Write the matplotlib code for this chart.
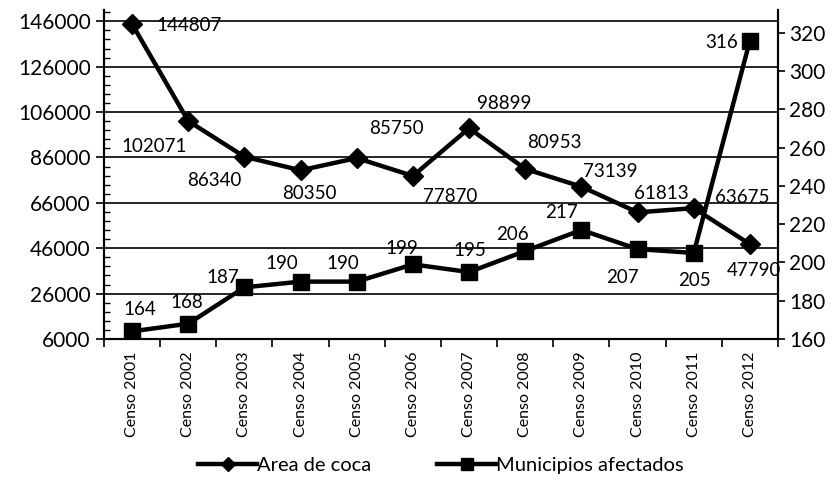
import matplotlib.pyplot as plt
import numpy as np

plt.rcParams['font.family'] = ['Lato', 'DejaVu Sans']

years = ['Censo 2001', 'Censo 2002', 'Censo 2003', 'Censo 2004', 'Censo 2005', 'Censo 2006',
         'Censo 2007', 'Censo 2008', 'Censo 2009', 'Censo 2010', 'Censo 2011', 'Censo 2012']
area_coca = [144807, 102071, 86340, 80350, 85750, 77870, 98899, 80953, 73139, 61813, 63675, 47790]
municipios = [164, 168, 187, 190, 190, 199, 195, 206, 217, 207, 205, 316]

# label offsets in pixels (dx, dy), picked by eye
area_off = [(57, -1), (-34, -25), (-30, -24), (9, -23), (40, 30), (37, -21),
            (35, 25), (29, 26), (29, 15), (24, 19), (49, 11), (4, -26)]
mun_off = [(8, 22), (-1, 21), (-22, 10), (-19, 18), (-14, 18), (-11, 16),
           (1, 22), (-13, 17), (-20, 17), (-15, -28), (1, -28), (-28, -2)]

fig = plt.figure(figsize=(8.37, 4.88), dpi=100)
ax = fig.add_axes([104 / 837, 1 - 339 / 488, 674 / 837, 329 / 488])
ax2 = ax.twinx()

x = np.arange(len(years))

left_ticks = np.arange(6000, 146001, 20000)
for t in left_ticks:
    ax.axhline(t, color='black', lw=1.2, zorder=1)

l1, = ax.plot(x, area_coca, color='black', lw=3.2, marker='D', ms=10, zorder=3,
              label='Area de coca')
l2, = ax2.plot(x, municipios, color='black', lw=3.2, marker='s', ms=12, zorder=3,
               label='Municipios afectados')

for xi, v, (dx, dy) in zip(x, area_coca, area_off):
    ax.annotate(str(v), xy=(xi, v), xytext=(dx, dy), textcoords='offset pixels',
                ha='center', va='center', fontsize=13.5)
for xi, v, (dx, dy) in zip(x, municipios, mun_off):
    ax2.annotate(str(v), xy=(xi, v), xytext=(dx, dy), textcoords='offset pixels',
                 ha='center', va='center', fontsize=13.5)

ax.set_xlim(-0.5, len(years) - 0.5)
ax.set_ylim(6000, 151000)
ax2.set_ylim(160, 332)

ax.set_yticks(left_ticks)
ax.set_yticks(np.arange(6000, 150001, 4000), minor=True)
ax.tick_params(axis='y', which='minor', direction='in', length=4, width=1)
ax.tick_params(axis='y', which='major', direction='out', length=6, width=1.2, labelsize=15)
ax2.set_yticks(np.arange(160, 321, 20))
ax2.tick_params(axis='y', direction='out', length=5, width=1.2, labelsize=15, pad=3)

ax.set_xticks(x)
ax.set_xticklabels(years, rotation=90, fontsize=11.5)
ax.tick_params(axis='x', length=0, pad=9)
ax.set_xticks(np.arange(-0.5, len(years), 1), minor=True)
ax.tick_params(axis='x', which='minor', direction='out', length=6, width=1.2)

for a in (ax, ax2):
    a.spines['top'].set_visible(False)
    for s in ('left', 'right', 'bottom'):
        a.spines[s].set_linewidth(1.5)

ax.legend([l1, l2], ['Area de coca', 'Municipios afectados'], loc='center',
          bbox_to_anchor=(0.5, -0.385), ncol=2, frameon=False, fontsize=14.5,
          handlelength=2.9, handletextpad=0.0, columnspacing=3.3, markerscale=0.75)

fig.savefig('out.png', dpi=100)
